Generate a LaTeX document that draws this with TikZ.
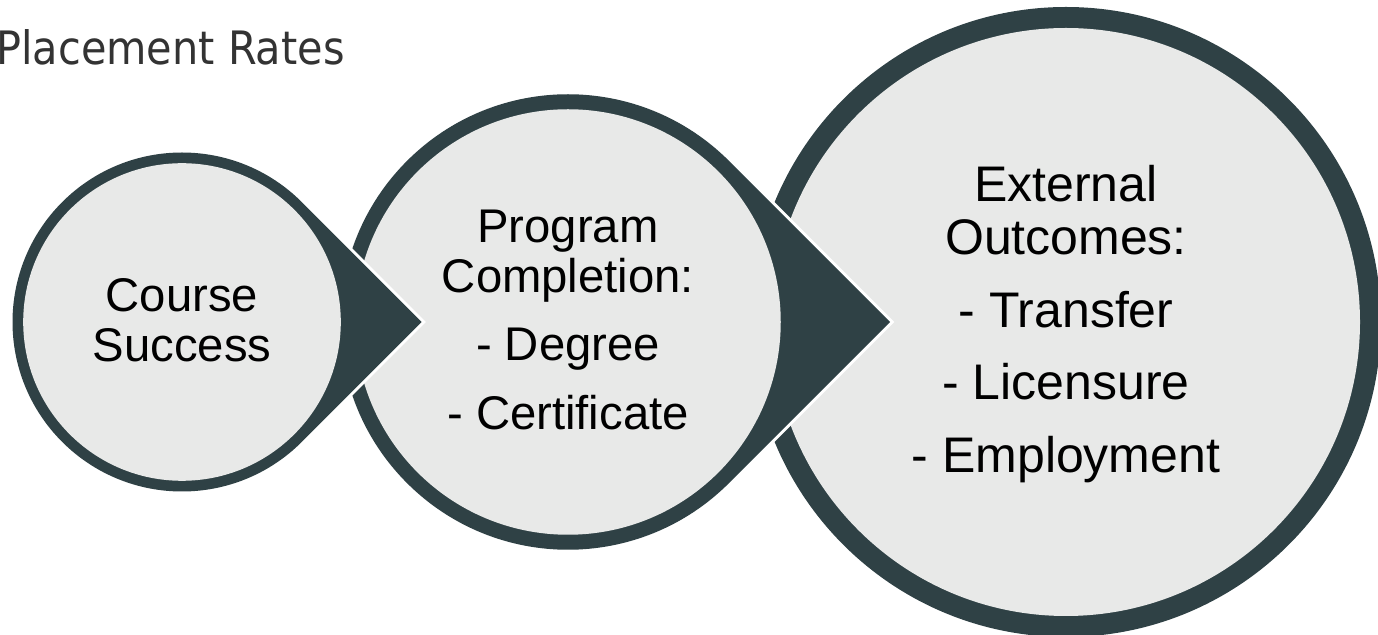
\documentclass[tikz,border=0pt]{standalone}
\usepackage{fontspec}
\setmainfont{Liberation Sans}
\newfontfamily\titlefont[FakeStretch=0.9]{DejaVu Sans}
\usepackage{tikz}
\usetikzlibrary{positioning}
\definecolor{slate}{HTML}{2F4145}
\definecolor{paper}{HTML}{E8E9E8}
\definecolor{ink}{HTML}{333333}
\tikzset{
  plate/.style={fill=slate, preaction={draw=white, line width=1.2mm}},
  face/.style={fill=paper},
  stagetext/.style={align=center, inner sep=0pt, text=black},
}

\begin{document}
\begin{tikzpicture}
\useasboundingbox (0,0) rectangle (27.56,12.7);
\fill[plate] (21.32,6.26) circle[radius=6.3];
\fill[face] (21.32,6.26) circle[radius=5.88];
\fill[plate] (11.36,6.26) ++(45:4.555) arc[start angle=45,end angle=315,radius=4.555] -- ++(45:4.555) -- cycle;
\fill[face] (11.36,6.26) circle[radius=4.255];
\fill[plate] (3.64,6.26) ++(45:3.39) arc[start angle=45,end angle=315,radius=3.39] -- ++(45:3.39) -- cycle;
\fill[face] (3.64,6.26) circle[radius=3.176];
\node[stagetext, font=\fontsize{26.9pt}{28.45pt}\selectfont] (course) at (3.64,6.30) {Course\\Success};
\node[stagetext, font=\fontsize{26.9pt}{28.45pt}\selectfont] (program) at (11.36,6.31)
  {Program\\Completion:\\[0.37cm]- Degree\\[0.37cm]- Certificate};
\node[stagetext, font=\fontsize{28.45pt}{30.3pt}\selectfont] (external) at (21.32,6.22)
  {External\\Outcomes:\\[0.39cm]- Transfer\\[0.39cm]- Licensure\\[0.39cm]- Employment};
\node[anchor=base west, inner sep=0pt, text=ink, font=\titlefont\fontsize{26.2pt}{30pt}\selectfont] (title) at (-0.08,11.4) {Placement Rates};
\end{tikzpicture}
\end{document}
